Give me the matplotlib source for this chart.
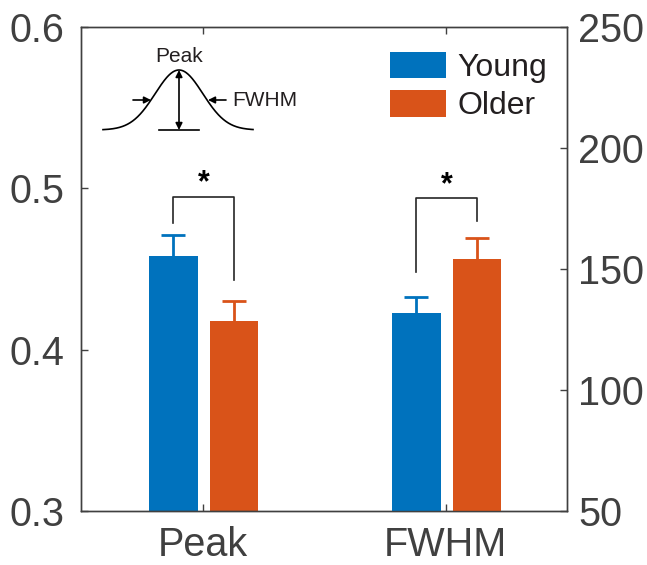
import numpy as np
import matplotlib
matplotlib.use("Agg")
import matplotlib.pyplot as plt

plt.rcParams['font.family'] = ['Liberation Sans', 'DejaVu Sans']

categories = ['Peak', 'FWHM']
groups = ['Young', 'Older']
peak_vals = [0.458, 0.418]
peak_err = [0.013, 0.012]
fwhm_vals = [131.7, 154.1]
fwhm_err = [6.9, 8.7]
left_ticks = [0.3, 0.4, 0.5, 0.6]
right_ticks = [50, 100, 150, 200, 250]
# significance brackets: (left_bottom, top, right_bottom)
peak_bracket = [0.4785, 0.4948, 0.443]
fwhm_bracket = [148.8, 179.3, 169.8]

colors = ['#0072BD', '#D95319']
axcol = '#404040'

W, H = 647, 565
fig = plt.figure(figsize=(W/100, H/100), dpi=100)
ax = fig.add_axes([81/W, 1-511/H, (567-81)/W, (511-27)/H])
ax2 = ax.twinx()

xpos = [1, 2]
offs = [-0.12, 0.13]
bw = 0.2
capw = 0.05

def draw(a, x, v, e, c, label=None):
    a.bar(x, v, bw, color=c, zorder=2, label=label)
    a.vlines(x, v, v + e, color=c, lw=2, zorder=3)
    a.hlines(v + e, x - capw, x + capw, color=c, lw=2, zorder=3)

for i in range(2):
    draw(ax, xpos[0]+offs[i], peak_vals[i], peak_err[i], colors[i])
    draw(ax2, xpos[1]+offs[i], fwhm_vals[i], fwhm_err[i], colors[i], label=groups[i])

# brackets
bcol = '#262626'
xl, xr = xpos[0]+offs[0], xpos[0]+offs[1]
ax.plot([xl, xl, xr, xr], [peak_bracket[0], peak_bracket[1], peak_bracket[1], peak_bracket[2]],
        color=bcol, lw=1.2)
ax.text((xl+xr)/2, peak_bracket[1]+0.0085, '*', ha='center', va='center', fontsize=22, fontweight='bold')
xl, xr = xpos[1]+offs[0], xpos[1]+offs[1]
ax2.plot([xl, xl, xr, xr], [fwhm_bracket[0], fwhm_bracket[1], fwhm_bracket[1], fwhm_bracket[2]],
         color=bcol, lw=1.2)
ax2.text((xl+xr)/2, fwhm_bracket[1]+5.4, '*', ha='center', va='center', fontsize=22, fontweight='bold')

ax.set_xlim(0.5, 2.5)
ax.set_ylim(0.3, 0.6)
ax2.set_ylim(50, 250)
ax.set_xticks(xpos)
ax.set_xticklabels(categories)
ax.set_yticks(left_ticks)
ax.set_yticklabels([f'{v:.1f}' for v in left_ticks])
ax2.set_yticks(right_ticks)

for a in (ax, ax2):
    for s in a.spines.values():
        s.set_color(axcol)
        s.set_linewidth(1.0)
    a.tick_params(direction='in', length=5, width=1, color=axcol, labelcolor=axcol, labelsize=28.5)
ax.tick_params(axis='x', top=True, pad=11)
ax.tick_params(axis='y', right=False, pad=12)
ax2.tick_params(axis='y', pad=8)

leg = ax2.legend(loc='upper right', bbox_to_anchor=(0.995, 0.985), frameon=False, fontsize=23,
                 handlelength=1.75, handleheight=0.9, handletextpad=0.35, labelspacing=0.22,
                 borderaxespad=0.15)
for t in leg.get_texts():
    t.set_color('#231f20')

# inset schematic (figure pixel coordinates)
ov = fig.add_axes([0, 0, 1, 1], facecolor='none')
ov.set_xlim(0, W)
ov.set_ylim(H, 0)
ov.axis('off')
cx, base, top = 179, 130, 70
sig = 23.8
xs = np.linspace(103, 253, 300)
ov.plot(xs, base - (base-top)*np.exp(-0.5*((xs-cx)/sig)**2), color='black', lw=1.2)
ov.plot([159, 199], [base, base], color='black', lw=1.2)
ov.annotate('', xy=(cx, top), xytext=(cx, base),
            arrowprops=dict(arrowstyle='<|-|>', color='black', lw=1.2, mutation_scale=10, shrinkA=0, shrinkB=0))
ov.annotate('', xy=(151, 100), xytext=(133, 100),
            arrowprops=dict(arrowstyle='-|>', color='black', lw=1.2, mutation_scale=10, shrinkA=0, shrinkB=0))
ov.annotate('', xy=(208, 100), xytext=(226, 100),
            arrowprops=dict(arrowstyle='-|>', color='black', lw=1.2, mutation_scale=10, shrinkA=0, shrinkB=0))
ov.text(cx, 66, 'Peak', ha='center', va='bottom', fontsize=15, color='#231f20')
ov.text(232, 100, 'FWHM', ha='left', va='center', fontsize=15, color='#231f20')

fig.savefig('out.png', dpi=100)
